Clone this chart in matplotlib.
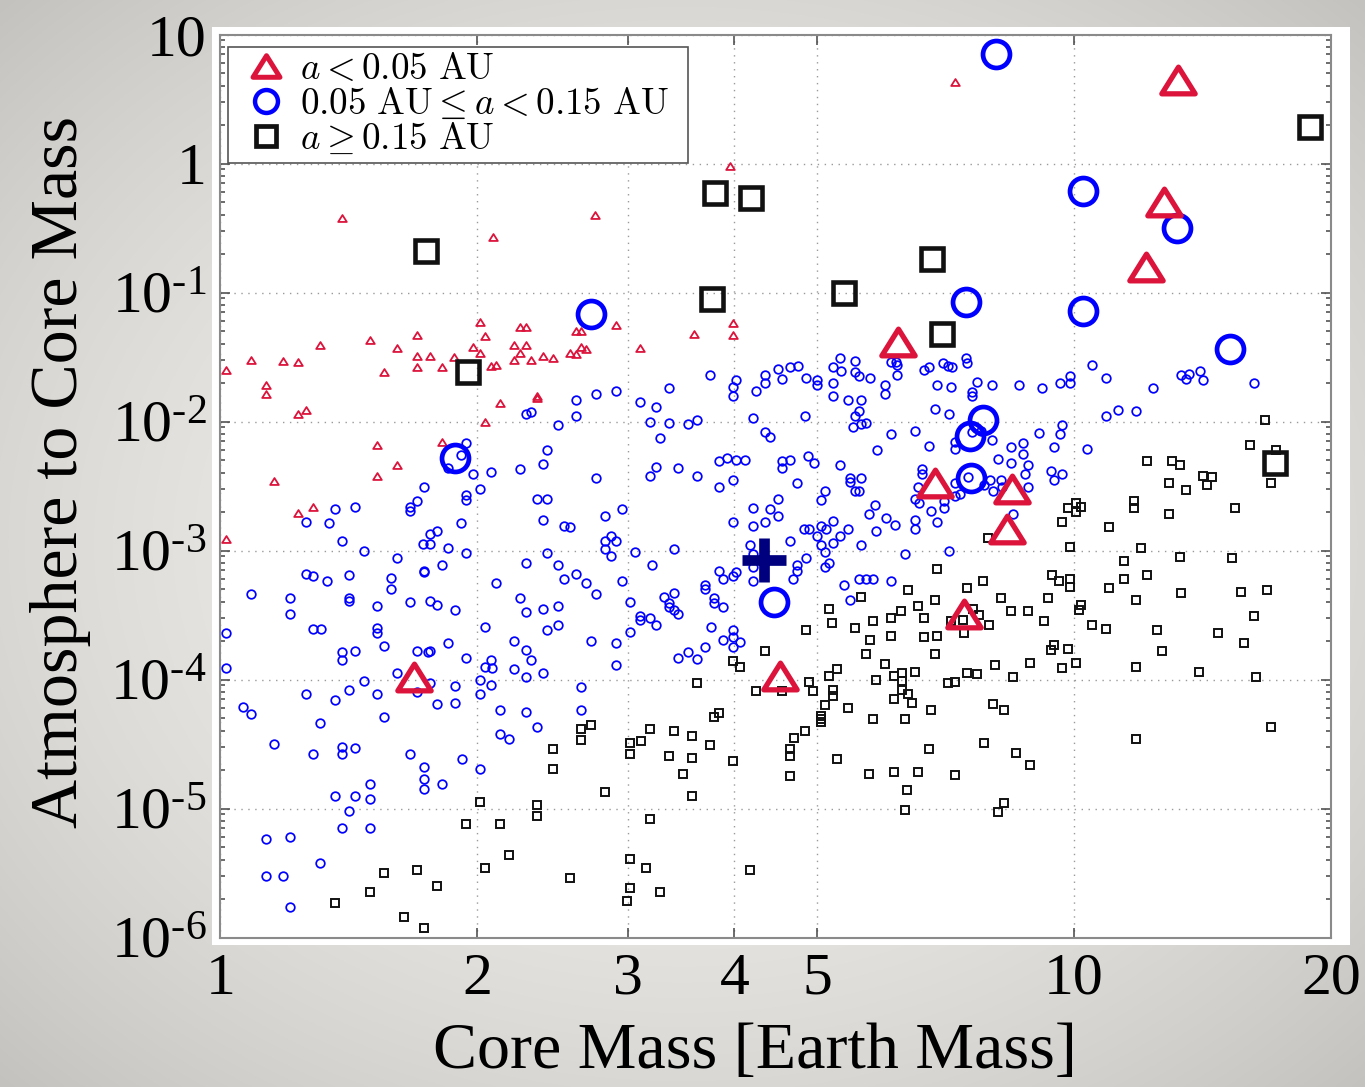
import numpy as np
import matplotlib
matplotlib.use("Agg")
import matplotlib.pyplot as plt
from matplotlib.lines import Line2D
from matplotlib.patches import Rectangle
from matplotlib.path import Path
from matplotlib.font_manager import FontProperties
from matplotlib.ticker import FixedLocator, FixedFormatter, LogLocator, NullFormatter, NullLocator

plt.rcParams['font.family'] = ['Liberation Serif', 'DejaVu Serif']
plt.rcParams['mathtext.fontset'] = 'cm'

# ---------------------------------------------------------------------------
# Data: (log10 core mass [M_earth], log10 atmosphere-to-core mass ratio)
# ---------------------------------------------------------------------------
close_small = [  # a < 0.05 AU
    (0.143, -0.42), (0.319, -0.57), (0.304, -1.23), (0.439, -0.40), (0.597, -0.02),
    (0.601, -1.24), (0.463, -1.25), (0.351, -1.27), (0.358, -1.27), (0.860, 0.63),
    (0.007, -1.60), (0.036, -1.52), (0.073, -1.53), (0.091, -1.54), (0.117, -1.41),
    (0.054, -1.72), (0.054, -1.79), (0.091, -1.94), (0.100, -1.91), (0.175, -1.37),
    (0.207, -1.43), (0.230, -1.33), (0.230, -1.49), (0.245, -1.49), (0.230, -1.58),
    (0.192, -1.62), (0.260, -1.58), (0.274, -1.50), (0.296, -1.42), (0.304, -1.47),
    (0.310, -1.34), (0.317, -1.57), (0.323, -1.56), (0.328, -1.86), (0.310, -2.00),
    (0.260, -2.16), (0.183, -2.18), (0.207, -2.34), (0.183, -2.42), (0.063, -2.46),
    (0.108, -2.66), (0.091, -2.71), (0.007, -2.91), (0.416, -1.30), (0.422, -1.30),
    (0.555, -1.32), (0.600, -1.33), (0.344, -1.41), (0.358, -1.41), (0.351, -1.47),
    (0.344, -1.52), (0.364, -1.52), (0.378, -1.49), (0.390, -1.51), (0.409, -1.47),
    (0.416, -1.48), (0.422, -1.42), (0.428, -1.44), (0.492, -1.43), (0.371, -1.82),
    (0.371, -1.80),
]

middle_small = [  # 0.05 AU <= a < 0.15 AU
    (0.288, -2.17), (0.282, -2.26), (0.267, -2.36), (0.296, -2.41), (0.317, -2.39),
    (0.304, -2.52), (0.238, -2.51), (0.288, -2.57), (0.288, -2.61), (0.230, -2.62),
    (0.222, -2.66), (0.222, -2.69), (0.158, -2.66), (0.134, -2.68), (0.100, -2.78),
    (0.127, -2.79), (0.143, -2.93), (0.168, -3.00), (0.282, -2.79), (0.245, -2.87),
    (0.254, -2.85), (0.237, -2.95), (0.246, -2.95), (0.267, -2.98), (0.288, -3.02),
    (0.207, -3.06), (0.260, -3.11), (0.238, -3.16), (0.238, -3.17), (0.100, -3.18),
    (0.108, -3.20), (0.125, -3.24), (0.151, -3.19), (0.200, -3.21), (0.323, -3.25),
    (0.036, -3.34), (0.082, -3.37), (0.151, -3.37), (0.151, -3.39), (0.200, -3.30),
    (0.222, -3.40), (0.245, -3.39), (0.254, -3.42), (0.275, -3.46), (0.183, -3.43),
    (0.082, -3.49), (0.108, -3.61), (0.118, -3.61), (0.183, -3.60), (0.183, -3.64),
    (0.310, -3.59), (0.007, -3.64),
    (0.192, -3.74), (0.143, -3.79), (0.143, -3.85), (0.158, -3.78), (0.230, -3.78),
    (0.243, -3.79), (0.246, -3.78), (0.267, -3.72), (0.288, -3.83), (0.310, -3.90),
    (0.317, -3.85), (0.318, -3.91), (0.007, -3.91), (0.207, -3.95), (0.246, -4.03),
    (0.230, -4.10), (0.168, -4.01), (0.151, -4.08), (0.100, -4.11), (0.134, -4.16),
    (0.183, -4.11), (0.254, -4.19), (0.275, -4.05), (0.275, -4.18), (0.304, -4.00),
    (0.304, -4.11), (0.317, -4.04), (0.328, -4.24), (0.327, -4.42), (0.026, -4.21),
    (0.036, -4.27), (0.117, -4.34), (0.192, -4.29), (0.063, -4.50), (0.108, -4.58),
    (0.143, -4.52), (0.143, -4.58), (0.158, -4.53), (0.222, -4.58), (0.238, -4.68),
    (0.283, -4.62), (0.304, -4.69), (0.238, -4.77), (0.238, -4.85), (0.260, -4.81),
    (0.175, -4.81), (0.134, -4.90), (0.158, -4.90), (0.175, -4.93), (0.151, -5.02),
    (0.143, -5.15), (0.175, -5.15), (0.054, -5.24), (0.082, -5.22), (0.117, -5.42),
    (0.054, -5.52), (0.073, -5.52), (0.082, -5.76),
    (0.358, -1.94), (0.364, -1.93), (0.396, -2.03), (0.416, -1.83), (0.416, -1.96),
    (0.440, -1.79), (0.464, -1.76), (0.492, -1.85), (0.510, -1.89), (0.526, -1.74),
    (0.503, -2.00), (0.526, -2.01), (0.548, -2.02), (0.558, -1.99), (0.515, -2.13),
    (0.573, -1.64), (0.600, -1.73), (0.604, -1.68), (0.600, -1.80), (0.624, -1.97),
    (0.628, -1.76), (0.638, -1.70), (0.638, -1.64), (0.653, -1.59), (0.658, -1.67),
    (0.638, -2.08), (0.644, -2.12), (0.383, -2.22), (0.351, -2.37), (0.378, -2.33),
    (0.440, -2.44), (0.510, -2.35), (0.503, -2.42), (0.536, -2.36), (0.558, -2.42),
    (0.584, -2.31), (0.594, -2.28), (0.604, -2.30), (0.615, -2.30), (0.658, -2.31),
    (0.658, -2.36), (0.584, -2.51), (0.600, -2.45), (0.371, -2.60), (0.383, -2.60),
    (0.378, -2.76), (0.402, -2.81), (0.410, -2.82), (0.451, -2.73), (0.470, -2.68),
    (0.600, -2.78), (0.624, -2.67), (0.624, -2.81), (0.638, -2.78), (0.644, -2.68),
    (0.653, -2.60), (0.653, -2.73), (0.451, -2.93), (0.457, -2.89), (0.464, -2.93),
    (0.451, -2.99), (0.457, -3.04), (0.383, -3.02), (0.486, -3.01), (0.531, -2.99),
    (0.358, -3.10), (0.396, -3.11), (0.402, -3.22), (0.416, -3.18), (0.428, -3.25),
    (0.470, -3.24), (0.506, -3.11), (0.440, -3.34), (0.351, -3.37), (0.358, -3.48),
    (0.378, -3.45), (0.396, -3.43), (0.383, -3.62), (0.396, -3.58), (0.480, -3.40),
    (0.492, -3.51), (0.492, -3.54), (0.503, -3.52), (0.510, -3.58), (0.480, -3.63),
    (0.520, -3.36), (0.531, -3.33), (0.525, -3.41), (0.526, -3.44), (0.531, -3.46),
    (0.536, -3.49), (0.568, -3.27), (0.568, -3.30), (0.578, -3.37), (0.578, -3.41),
    (0.589, -3.44), (0.575, -3.59), (0.600, -3.62), (0.584, -3.16), (0.589, -3.22),
    (0.600, -3.20), (0.604, -3.17), (0.620, -2.96), (0.624, -3.03), (0.624, -3.13),
    (0.624, -3.24),
    (0.344, -3.70), (0.358, -3.77), (0.364, -3.85), (0.344, -3.92), (0.358, -3.98),
    (0.378, -3.95), (0.434, -3.70), (0.464, -3.72), (0.464, -3.89), (0.422, -4.06),
    (0.422, -4.24), (0.358, -4.25), (0.371, -4.37), (0.338, -4.46), (0.536, -3.83),
    (0.548, -3.79), (0.558, -3.84), (0.568, -3.75), (0.589, -3.69), (0.600, -3.67),
    (0.600, -3.75), (0.609, -3.71),
    (0.667, -1.58), (0.677, -1.57), (0.686, -1.66), (0.699, -1.68), (0.699, -1.72),
    (0.718, -1.58), (0.726, -1.51), (0.727, -1.61), (0.718, -1.70), (0.743, -1.53),
    (0.743, -1.62), (0.748, -1.65), (0.761, -1.66), (0.718, -1.80), (0.735, -1.83),
    (0.750, -1.83), (0.778, -1.72), (0.778, -1.79), (0.785, -1.54), (0.791, -1.54),
    (0.793, -1.56), (0.793, -1.64), (0.748, -1.92), (0.743, -1.96), (0.750, -2.02),
    (0.741, -2.04), (0.756, -2.01), (0.685, -1.96), (0.824, -1.60), (0.830, -1.58),
    (0.847, -1.55), (0.852, -1.57), (0.857, -1.58), (0.874, -1.51), (0.875, -1.55),
    (0.840, -1.72), (0.856, -1.73), (0.886, -1.69), (0.904, -1.72), (0.881, -1.77),
    (0.881, -1.80), (0.935, -1.72), (0.962, -1.74), (0.983, -1.70), (0.995, -1.65),
    (0.995, -1.70), (0.837, -1.90), (0.853, -1.94), (0.785, -2.10), (0.814, -2.07),
    (0.830, -2.19), (0.769, -2.22), (0.860, -2.16), (0.860, -2.21), (0.881, -2.08),
    (0.891, -2.07), (0.904, -2.14), (0.926, -2.20), (0.940, -2.17), (0.940, -2.25),
    (0.959, -2.09), (0.983, -2.10), (0.986, -2.03), (0.976, -2.20), (0.911, -2.29),
    (0.926, -2.32), (0.946, -2.34), (0.943, -2.41), (0.973, -2.38), (0.976, -2.45),
    (0.986, -2.41), (0.946, -2.51), (0.667, -2.30), (0.688, -2.27), (0.695, -2.32),
    (0.726, -2.34), (0.676, -2.48), (0.738, -2.44), (0.738, -2.47), (0.751, -2.44),
    (0.743, -2.54), (0.748, -2.54), (0.708, -2.54), (0.704, -2.61), (0.767, -2.65),
    (0.760, -2.72), (0.780, -2.75), (0.790, -2.80), (0.768, -2.85), (0.822, -2.37),
    (0.822, -2.41), (0.817, -2.51), (0.814, -2.60), (0.818, -2.63), (0.832, -2.69),
    (0.848, -2.62), (0.848, -2.67), (0.840, -2.78), (0.814, -2.76), (0.814, -2.83),
    (0.860, -2.48), (0.867, -2.56), (0.860, -2.58), (0.876, -2.43), (0.894, -2.49),
    (0.901, -2.45), (0.905, -2.54), (0.914, -2.45), (0.916, -2.51), (0.929, -2.72),
    (0.684, -2.83), (0.690, -2.83), (0.699, -2.89), (0.704, -2.81), (0.709, -2.83),
    (0.718, -2.77), (0.726, -2.89), (0.735, -2.83), (0.667, -2.93), (0.704, -2.96),
    (0.708, -3.01), (0.718, -2.94), (0.751, -2.96), (0.686, -3.06), (0.676, -3.11),
    (0.676, -3.16), (0.671, -3.22), (0.708, -3.13), (0.713, -3.10), (0.730, -3.27),
    (0.738, -3.38), (0.748, -3.22), (0.756, -3.22), (0.765, -3.22), (0.785, -3.24),
    (0.802, -3.03), (0.853, -3.00),
    (1.021, -1.56), (1.038, -1.66), (1.092, -1.74), (1.125, -1.64), (1.131, -1.67),
    (1.135, -1.63), (1.148, -1.61), (1.151, -1.68), (1.211, -1.70), (1.038, -1.96),
    (1.051, -1.91), (1.073, -1.92), (1.015, -2.21),
]

far_small = [  # a >= 0.15 AU
    (0.304, -4.95), (0.288, -5.12), (0.328, -5.12), (0.310, -5.46), (0.192, -5.50),
    (0.230, -5.48), (0.254, -5.60), (0.175, -5.65), (0.134, -5.73), (0.215, -5.84),
    (0.238, -5.93),
    (0.638, -3.78), (0.600, -3.86), (0.609, -3.90), (0.558, -4.03), (0.628, -4.09),
    (0.658, -4.09), (0.578, -4.29), (0.584, -4.26), (0.503, -4.38), (0.531, -4.40),
    (0.552, -4.44), (0.573, -4.51), (0.480, -4.49), (0.493, -4.48), (0.480, -4.58),
    (0.526, -4.59), (0.552, -4.61), (0.600, -4.63), (0.542, -4.73), (0.552, -4.90),
    (0.422, -4.38), (0.434, -4.35), (0.422, -4.47), (0.390, -4.54), (0.390, -4.69),
    (0.451, -4.87), (0.371, -4.97), (0.371, -5.06), (0.338, -5.36), (0.410, -5.54),
    (0.503, -5.08), (0.480, -5.39), (0.499, -5.46), (0.480, -5.62), (0.476, -5.72),
    (0.515, -5.65), (0.620, -5.48),
    (0.899, -2.90), (0.993, -2.67), (0.986, -2.78), (0.995, -2.97), (0.840, -3.14),
    (0.805, -3.31), (0.837, -3.38), (0.875, -3.29), (0.893, -3.24), (0.914, -3.37),
    (0.974, -3.19), (0.982, -3.24), (0.995, -3.22), (0.995, -3.28), (0.970, -3.37),
    (0.713, -3.45), (0.751, -3.36), (0.717, -3.56), (0.743, -3.60), (0.765, -3.55),
    (0.785, -3.52), (0.797, -3.47), (0.817, -3.43), (0.824, -3.52), (0.686, -3.62),
    (0.882, -3.45), (0.889, -3.50), (0.900, -3.58), (0.870, -3.54), (0.856, -3.55),
    (0.926, -3.47), (0.946, -3.47), (0.965, -3.55),
    (0.761, -3.69), (0.785, -3.66), (0.824, -3.67), (0.840, -3.66), (0.871, -3.64),
    (0.756, -3.80), (0.837, -3.80), (0.778, -3.88), (0.722, -3.92), (0.713, -3.97),
    (0.690, -4.02), (0.694, -4.09), (0.718, -4.08), (0.718, -4.13), (0.768, -4.00),
    (0.789, -3.97), (0.798, -3.95), (0.798, -4.01), (0.798, -4.08), (0.814, -3.94),
    (0.805, -4.11), (0.810, -4.18), (0.789, -4.15), (0.852, -4.03), (0.860, -4.02),
    (0.875, -3.95), (0.886, -3.96), (0.908, -3.89), (0.929, -3.98), (0.949, -3.87),
    (0.976, -3.73), (0.973, -3.77), (0.993, -3.76), (0.986, -3.91), (0.708, -4.20),
    (0.735, -4.22), (0.703, -4.28), (0.703, -4.31), (0.703, -4.33), (0.765, -4.31),
    (0.802, -4.31), (0.832, -4.24), (0.905, -4.19), (0.918, -4.24), (0.685, -4.40),
    (0.672, -4.45), (0.667, -4.54), (0.667, -4.59), (0.667, -4.75), (0.722, -4.62),
    (0.830, -4.54), (0.894, -4.49), (0.932, -4.57), (0.949, -4.66), (0.760, -4.73),
    (0.789, -4.72), (0.817, -4.72), (0.860, -4.74), (0.804, -4.86), (0.802, -5.01),
    (0.918, -4.96), (0.911, -5.03),
    (1.224, -1.99), (1.206, -2.18), (1.237, -2.22), (1.231, -2.48), (1.085, -2.31),
    (1.115, -2.31), (1.124, -2.34), (1.151, -2.42), (1.162, -2.43), (1.156, -2.49),
    (1.111, -2.48), (1.131, -2.53), (1.188, -2.67), (1.070, -2.62), (1.070, -2.67),
    (1.002, -2.63), (1.002, -2.70), (1.008, -2.66), (1.111, -2.72), (1.041, -2.82),
    (1.079, -2.98), (1.059, -3.08), (1.124, -3.05), (1.185, -3.06), (1.085, -3.19),
    (1.059, -3.22), (1.041, -3.29), (1.073, -3.38), (1.125, -3.33), (1.196, -3.32),
    (1.226, -3.31), (1.008, -3.42), (1.006, -3.46), (1.211, -3.51), (1.021, -3.58),
    (1.038, -3.61), (1.097, -3.62), (1.169, -3.64),
    (1.199, -3.72), (1.002, -3.87), (1.103, -3.78), (1.073, -3.90), (1.146, -3.94),
    (1.213, -3.98), (1.231, -4.37), (1.073, -4.46),
]

close_big = [
    (0.227, -3.98), (0.655, -3.97), (0.794, -1.38), (0.837, -2.48), (0.927, -2.52),
    (0.921, -2.83), (0.871, -3.49), (1.122, 0.65), (1.105, -0.30), (1.084, -0.80),
]
middle_big = [
    (0.434, -1.17), (0.275, -2.28), (0.649, -3.40), (0.909, 0.85), (0.874, -1.07),
    (1.010, -0.21), (1.121, -0.50), (1.010, -1.14), (1.183, -1.44), (0.893, -1.99),
    (0.878, -2.11), (0.879, -2.44),
]
far_big = [
    (0.241, -0.68), (0.290, -1.62), (0.579, -0.23), (0.622, -0.27), (0.576, -1.05),
    (0.731, -1.00), (0.834, -0.74), (0.845, -1.32), (1.277, 0.28), (1.235, -2.32),
]
reference_point = [(0.637, -3.07)]

x_ticks = [1, 2, 3, 4, 5, 10, 20]
x_tick_labels = ['1', '2', '3', '4', '5', '10', '20']
y_ticks = [1e-6, 1e-5, 1e-4, 1e-3, 1e-2, 1e-1, 1, 10]
y_tick_labels = [r'$\mathregular{10^{\text{-}6}}$', r'$\mathregular{10^{\text{-}5}}$',
                 r'$\mathregular{10^{\text{-}4}}$', r'$\mathregular{10^{\text{-}3}}$',
                 r'$\mathregular{10^{\text{-}2}}$', r'$\mathregular{10^{\text{-}1}}$',
                 '1', '10']
legend_labels = [r'$a < 0.05\ \mathrm{AU}$',
                 r'$0.05\ \mathrm{AU} \leq a < 0.15\ \mathrm{AU}$',
                 r'$a \geq 0.15\ \mathrm{AU}$']

RED = '#dc143c'
BLUE = '#0000ff'
BLACK = '#111111'
NAVY = '#00007f'

# flattened triangle marker (wider than tall)
TRI = Path([(0, 0.8), (-1, -0.8), (1, -0.8), (0, 0.8)],
           [Path.MOVETO, Path.LINETO, Path.LINETO, Path.CLOSEPOLY])


def values(points):
    arr = 10.0 ** np.array(points)
    return arr[:, 0], arr[:, 1]


W, H = 1365, 1087
fig = plt.figure(figsize=(W / 100, H / 100), dpi=100)

# soft grey backdrop with darker corners
yy, xx = np.mgrid[0:H, 0:W]
rr = ((xx - W / 2) / (W / 2)) ** 2 + ((yy - H / 2) / (H / 2)) ** 2
shade = np.clip(rr / 2.0, 0, 1)[..., None]
light = np.array([238, 237, 234]) / 255.0
dark = np.array([196, 194, 190]) / 255.0
backdrop = light * (1 - shade) + dark * shade
bg = fig.add_axes([0, 0, 1, 1], zorder=-2)
bg.imshow(backdrop, aspect='auto', extent=(0, 1, 0, 1), interpolation='bilinear')
bg.add_patch(Rectangle((212 / W, 1 - 945 / H), (1350 - 212) / W, (945 - 27) / H,
                       facecolor='white', edgecolor='none'))
bg.set_xlim(0, 1)
bg.set_ylim(0, 1)
bg.axis('off')

ax = fig.add_axes([220.4 / W, 1 - 937.5 / H, (1331 - 220.4) / W, (937.5 - 34.5) / H])
ax.set_facecolor('white')
ax.set_xscale('log')
ax.set_yscale('log')
ax.set_xlim(1, 20)
ax.set_ylim(1e-6, 10)

small_kw = dict(linestyle='none', markerfacecolor='none')
x, y = values(far_small)
ax.plot(x, y, marker='s', markersize=5.2, markeredgewidth=1.4, markeredgecolor=BLACK, **small_kw)
x, y = values(middle_small)
ax.plot(x, y, marker='o', markersize=6.2, markeredgewidth=1.25, markeredgecolor=BLUE, **small_kw)
x, y = values(close_small)
ax.plot(x, y, marker=TRI, markersize=6.2, markeredgewidth=1.3, markeredgecolor=RED, **small_kw)

x, y = values(far_big)
ax.plot(x, y, marker='s', markersize=15.5, markeredgewidth=3.3, markeredgecolor=BLACK, **small_kw)
x, y = values(middle_big)
ax.plot(x, y, marker='o', markersize=19.4, markeredgewidth=3.4, markeredgecolor=BLUE, **small_kw)
x, y = values(close_big)
ax.plot(x, y, marker=TRI, markersize=24, markeredgewidth=3.8, markeredgecolor=RED, **small_kw)

x, y = values(reference_point)
ax.plot(x, y, linestyle='none', marker='+', markersize=31, markeredgewidth=7.7,
        markeredgecolor=NAVY)

# axes, ticks and grid
ax.xaxis.set_major_locator(FixedLocator(x_ticks))
ax.xaxis.set_major_formatter(FixedFormatter(x_tick_labels))
ax.xaxis.set_minor_locator(NullLocator())
ax.yaxis.set_major_locator(FixedLocator(y_ticks))
ax.yaxis.set_major_formatter(FixedFormatter(y_tick_labels))
ax.yaxis.set_minor_locator(LogLocator(base=10, subs=np.arange(2, 10), numticks=20))
ax.yaxis.set_minor_formatter(NullFormatter())
ax.tick_params(which='both', direction='in', top=True, right=True, color='#444444', width=1.1)
ax.tick_params(which='major', length=7, labelsize=43)
ax.tick_params(which='minor', length=3.6)
ax.tick_params(axis='x', which='major', pad=11)
ax.tick_params(axis='y', which='major', pad=10)
ax.grid(True, which='major', linestyle=(0, (1, 4)), color='#9a9a9a', linewidth=1.0)
for sp in ax.spines.values():
    sp.set_color('#8a8a8a')
    sp.set_linewidth(1.5)

ax.set_xlabel('Core Mass [Earth Mass]', fontsize=47.5)
ax.set_ylabel('Atmosphere to Core Mass', fontsize=49)
ax.xaxis.label.set_va('baseline')
ax.yaxis.label.set_va('center')
ax.xaxis.set_label_coords(0.4814, -0.1450)
ax.yaxis.set_label_coords(-0.1440, 0.5155)

handles = [
    Line2D([], [], linestyle='none', marker=TRI, markersize=19.4, markeredgewidth=3.6,
           markeredgecolor=RED, markerfacecolor='none'),
    Line2D([], [], linestyle='none', marker='o', markersize=16.5, markeredgewidth=3.2,
           markeredgecolor=BLUE, markerfacecolor='none'),
    Line2D([], [], linestyle='none', marker='s', markersize=13.7, markeredgewidth=3.4,
           markeredgecolor=BLACK, markerfacecolor='none'),
]
leg = ax.legend(handles, legend_labels, loc='upper left',
                bbox_to_anchor=(0.0068, 0.8588, 0.4142, 0.1274), mode='expand',
                borderaxespad=0, borderpad=0.15, handlelength=1.75, handletextpad=0.05,
                labelspacing=0.0, fancybox=False, framealpha=1,
                prop=FontProperties(size=26.7, math_fontfamily='cm'))
leg.get_frame().set_edgecolor('#555555')
leg.get_frame().set_linewidth(1.2)

fig.savefig('out.png', dpi=100)
